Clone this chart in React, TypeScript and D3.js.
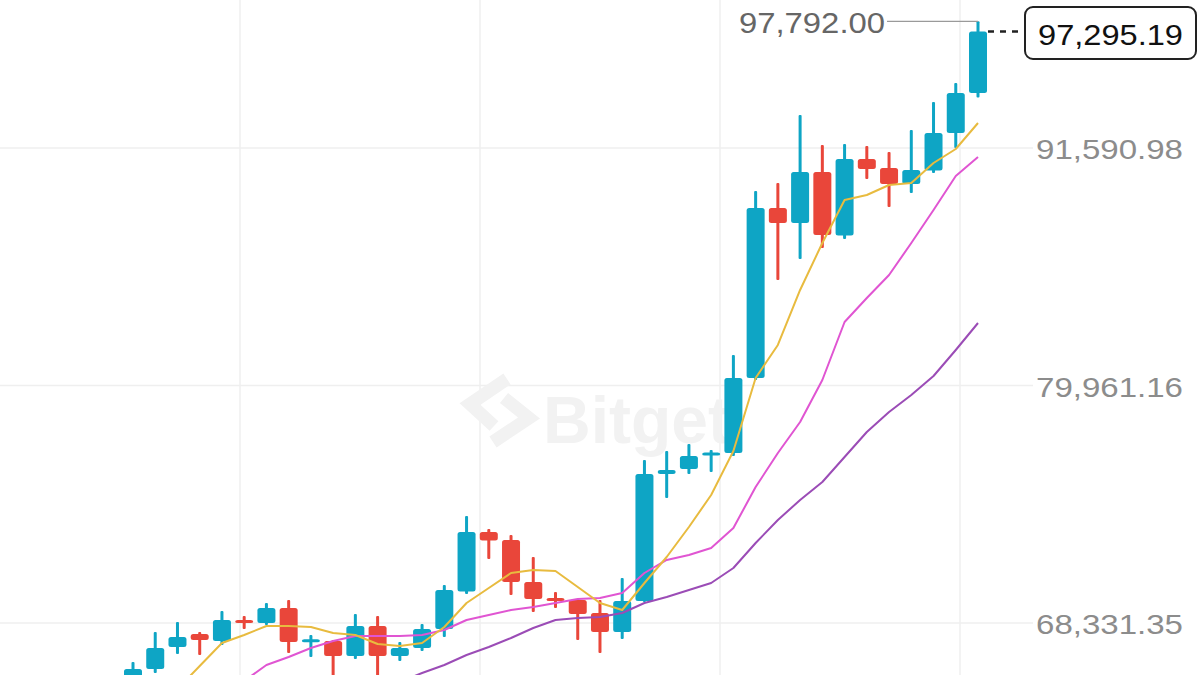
import React, { useEffect, useRef } from "react";
import * as d3 from "d3";

const opens = [65541, 66079, 67156, 67793, 67450, 68479, 68332, 69066, 67426, 67450, 66716, 68185, 66716, 67107, 68038, 69874, 72788, 72396, 70339, 69556, 69458, 68821, 67891, 69409, 75628, 75873, 76534, 76656, 80329, 88653, 87918, 90416, 87306, 91052, 90612, 89828, 90489, 92326, 94284];
const closes = [66079, 67107, 67646, 67499, 68479, 68332, 69066, 67401, 67499, 66716, 68185, 66716, 67107, 68038, 69948, 72788, 72371, 70339, 69507, 69409, 68772, 67891, 69409, 75628, 75824, 76509, 76681, 80329, 88653, 87918, 90416, 87331, 91052, 90563, 89828, 90514, 92326, 94284, 97295.19];
const highs = [66422, 67891, 68381, 67891, 68919, 68674, 69311, 69458, 67744, 67499, 68772, 68674, 67401, 68283, 70192, 73571, 72935, 72641, 71563, 69850, 69507, 69458, 70535, 76313, 76754, 77097, 76803, 81455, 89485, 89877, 93207, 91738, 91787, 91689, 91395, 92472, 93843, 94774, 97792];
const lows = [65296, 65883, 66814, 66765, 67254, 68038, 68234, 66863, 66667, 65541, 66569, 65736, 66471, 66961, 67646, 69752, 71466, 69703, 68870, 69066, 67499, 66863, 67548, 69360, 74453, 75628, 75726, 76509, 80231, 85127, 86156, 86694, 87135, 90073, 88702, 89387, 90367, 91591, 94064];

const ma5 = [null, null, 65100, 66226, 67352, 67744, 68185, 68185, 68136, 67842, 67744, 67303, 67205, 67352, 68136, 69311, 70046, 70780, 70927, 70878, 70094, 69311, 68968, 70290, 71563, 73032, 74599, 76754, 80329, 81945, 84638, 86939, 89045, 89290, 89779, 89877, 90856, 91542, 92815];
const ma10 = [null, null, null, null, null, 65492, 66275, 66667, 67107, 67450, 67695, 67695, 67695, 67744, 67989, 68479, 68723, 68968, 69115, 69311, 69507, 69556, 69801, 70780, 71417, 71661, 72004, 72984, 74991, 76656, 78174, 80231, 83071, 84246, 85372, 86939, 88555, 90220, 91150];
const ma20 = [null, null, null, null, null, null, null, null, null, null, null, null, 65443, 65883, 66275, 66765, 67156, 67597, 68087, 68479, 68577, 68625, 68821, 69311, 69605, 69948, 70290, 71025, 72249, 73375, 74355, 75236, 76460, 77684, 78664, 79496, 80427, 81700, 83022];

const tickValues = [91590.98, 79961.16, 68331.35];
const maxLabel = 97792.0;
const lastPrice = 97295.19;

const W = 1200;
const H = 675;
const UP = "#0ea5c5";
const DOWN = "#e9463a";

export default function App() {
  const ref = useRef<SVGSVGElement | null>(null);

  useEffect(() => {
    const svg = d3.select(ref.current);
    svg.selectAll("*").remove();

    const x = d3.scaleLinear().domain([0, 38]).range([133, 978]);
    const y = d3.scaleLinear().domain([68331.35, 91590.98]).range([623, 148]);
    const fmt = d3.format(",.2f");

    svg.append("rect").attr("width", W).attr("height", H).attr("fill", "#ffffff");

    // grid
    const grid = svg.append("g");
    [240, 480, 720, 960].forEach((gx) => {
      grid.append("line").attr("x1", gx).attr("x2", gx).attr("y1", 0).attr("y2", H)
        .attr("stroke", "#efefef").attr("stroke-width", 1.5);
    });
    tickValues.forEach((v) => {
      grid.append("line").attr("x1", 0).attr("x2", 1033).attr("y1", y(v)).attr("y2", y(v))
        .attr("stroke", "#efefef").attr("stroke-width", 1.5);
    });

    // watermark
    const wm = svg.append("g");
    wm.append("path").attr("d", "M507,379 L470,404 L494,426").attr("fill", "none")
      .attr("stroke", "#f2f2f2").attr("stroke-width", 13);
    wm.append("path").attr("d", "M504,398 L529,418 L493,442").attr("fill", "none")
      .attr("stroke", "#f2f2f2").attr("stroke-width", 13);
    wm.append("text").attr("x", 543).attr("y", 443).text("Bitget")
      .attr("font-family", "'Liberation Sans', Arial, sans-serif").attr("font-weight", 700)
      .attr("font-size", 66).attr("fill", "#f2f2f2");

    // candles
    const cg = svg.append("g");
    closes.forEach((c, i) => {
      const o = opens[i];
      const col = c >= o ? UP : DOWN;
      const cx = x(i);
      cg.append("rect").attr("x", cx - 1.5).attr("width", 3)
        .attr("y", y(highs[i])).attr("height", y(lows[i]) - y(highs[i]))
        .attr("fill", col).attr("rx", 1);
      const raw = Math.abs(y(o) - y(c));
      const h = Math.max(3, raw);
      const top = y(Math.max(o, c)) - (h - raw) / 2;
      cg.append("rect").attr("x", cx - 9).attr("width", 18)
        .attr("y", top).attr("height", h).attr("fill", col).attr("rx", 2.5);
    });

    // moving averages
    const line = d3.line<number | null>()
      .defined((d) => d != null)
      .x((_, i) => x(i))
      .y((d) => y(d as number));
    const series: [(number | null)[], string][] = [
      [ma20, "#9b4cb6"],
      [ma10, "#e055d2"],
      [ma5, "#e8bb3f"],
    ];
    series.forEach(([data, color]) => {
      svg.append("path").datum(data).attr("d", line as any).attr("fill", "none")
        .attr("stroke", color).attr("stroke-width", 2).attr("stroke-linejoin", "round");
    });

    const font = "'Liberation Sans', Arial, Helvetica, sans-serif";

    // axis labels
    tickValues.forEach((v) => {
      svg.append("text").attr("x", 1036).attr("y", y(v) + 11)
        .attr("textLength", 147).attr("lengthAdjust", "spacingAndGlyphs")
        .attr("font-family", font).attr("font-size", 28).attr("fill", "#8c8c8c")
        .text(fmt(v));
    });

    // max label
    const last = closes.length - 1;
    svg.append("path")
      .attr("d", `M887,${y(maxLabel)} L${x(last)},${y(maxLabel)}`)
      .attr("stroke", "#9a9a9a").attr("stroke-width", 1.2).attr("fill", "none");
    svg.append("text").attr("x", 739).attr("y", y(maxLabel) + 12)
      .attr("textLength", 146).attr("lengthAdjust", "spacingAndGlyphs")
      .attr("font-family", font).attr("font-size", 29).attr("fill", "#666666")
      .text(fmt(maxLabel));

    // last price
    svg.append("line").attr("x1", x(last) + 10).attr("x2", 1025)
      .attr("y1", y(lastPrice)).attr("y2", y(lastPrice))
      .attr("stroke", "#222").attr("stroke-width", 2.5).attr("stroke-dasharray", "6,6");
    svg.append("rect").attr("x", 1025).attr("y", 7).attr("width", 171).attr("height", 52)
      .attr("rx", 8).attr("fill", "#ffffff").attr("stroke", "#222").attr("stroke-width", 2);
    svg.append("text").attr("x", 1038).attr("y", 45)
      .attr("textLength", 145).attr("lengthAdjust", "spacingAndGlyphs")
      .attr("font-family", font).attr("font-size", 29).attr("fill", "#111")
      .text(fmt(lastPrice));
  }, []);

  return (
    <div style={{ position: "fixed", left: 0, top: 0, width: W, height: H, overflow: "hidden" }}>
      <svg ref={ref} width={W} height={H} style={{ display: "block" }} />
    </div>
  );
}
